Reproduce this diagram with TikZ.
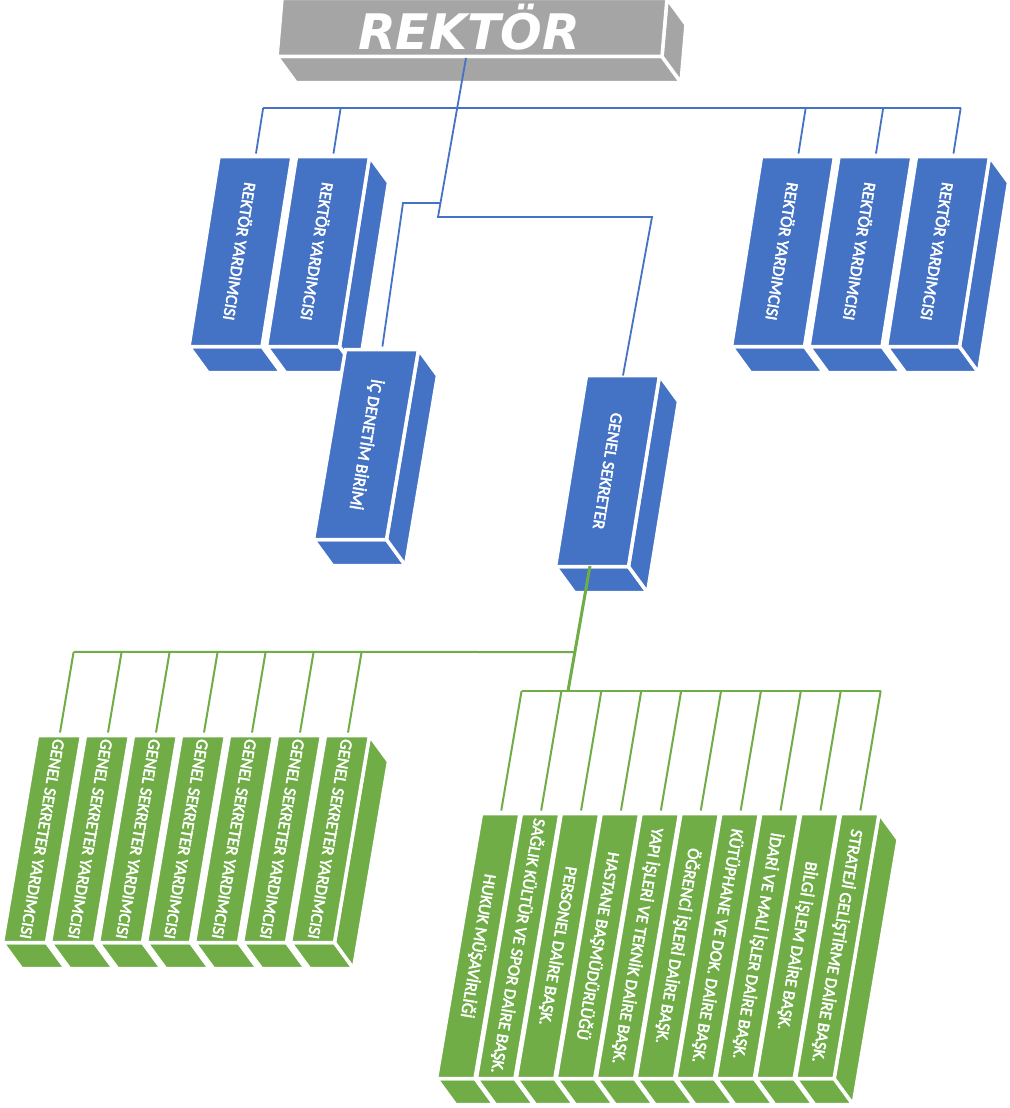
\documentclass[tikz,border=0pt]{standalone}
\usepackage{fontspec}
\newfontfamily\kutufont[FakeBold=2.5]{Carlito}
\newfontfamily\rektorfont{DejaVu Sans}
\usetikzlibrary{calc}

\definecolor{ofmavi}{HTML}{4472C4}
\definecolor{ofyesil}{HTML}{70AD47}
\definecolor{ofgri}{HTML}{A5A5A5}

%% depth of the 3d boxes
\def\derx{19}
\def\dery{26}

\tikzset{
  yuz/.style={draw=white, line width=3.5pt, line join=miter},
  etiket/.style={text=white, inner sep=0pt, font=\kutufont\fontsize{17}{18}\selectfont},
  mavibag/.style={draw=ofmavi, line width=1.8pt},
  yesilbag/.style={draw=ofyesil, line width=2pt},
  inis/.style={shorten >=3pt},
}

%% front face (name, x, y, w, h, slant, colour, text)
\newcommand{\onyuz}[8]{%
  \pgfmathsetmacro\aci{-90-atan(#6/#5)}%
  \filldraw[yuz, fill=#7] (#2,#3) -- ++(#4,0) -- ++(#6,-#5) -- ++(-#4,0) -- cycle;
  \node[etiket, rotate=\aci] (#1) at ({#2+#4/2+#6/2},{#3-#5/2}) {#8};
  \coordinate (#1-ust) at ({#2+#4/2+#6},{#3-#5});
  \coordinate (#1-egim) at ({#2+#4/2+2*#6},{#3-2*#5});
}
%% bottom face (x, y, w, colour)
\newcommand{\taban}[4]{%
  \filldraw[yuz, fill=#4] (#1,#2) -- ++(#3,0) -- ++(\derx,\dery) -- ++(-#3,0) -- cycle;
}
%% right face (x, y, w, h, slant, colour)
\newcommand{\yan}[6]{%
  \filldraw[yuz, fill=#6] ({#1+#3},#2) -- ++(#5,-#4) -- ++(\derx,\dery) -- ++(-#5,#4) -- cycle;
}

\begin{document}
\begin{tikzpicture}[x=1pt,y=-1pt]
        \useasboundingbox[fill=white] (0,0) rectangle (1009,1108);
        %% Rektor
        \taban{277}{56.5}{385}{ofgri}
        \yan{277}{56.5}{385}{58}{5}{ofgri}
        \filldraw[yuz, fill=ofgri] (277,56.5) -- ++(385,0) -- ++(5,-58) -- ++(-385,0) -- cycle;
        \node[text=white, inner sep=0pt, font=\rektorfont\bfseries\itshape\fontsize{49}{50}\selectfont] (rektor) at (469,27) {REKTÖR};
        %% Rektor yardimcilari
        \foreach \i/\xx in {1/189, 2/266.5} {\taban{\xx}{346.5}{73}{ofmavi}}
        \yan{266.5}{346.5}{73}{190}{30}{ofmavi}
        \foreach \i/\xx in {1/189, 2/266.5} {\onyuz{ry\i}{\xx}{346.5}{73}{190}{30}{ofmavi}{REKTÖR YARDIMCISI}}
        \foreach \i/\xx in {3/731.5, 4/809, 5/886.5} {\taban{\xx}{346.5}{73}{ofmavi}}
        \yan{886.5}{346.5}{73}{190}{30}{ofmavi}
        \foreach \i/\xx in {3/731.5, 4/809, 5/886.5} {\onyuz{ry\i}{\xx}{346.5}{73}{190}{30}{ofmavi}{REKTÖR YARDIMCISI}}
        %% Ic denetim
        \taban{313.5}{539.5}{73}{ofmavi}
        \yan{313.5}{539.5}{73}{190}{32}{ofmavi}
        \onyuz{icdenetim}{313.5}{539.5}{73}{190}{32}{ofmavi}{İÇ DENETİM BİRİMİ}
        %% Genel sekreter
        \taban{555.5}{566.5}{73}{ofmavi}
        \yan{555.5}{566.5}{73}{191}{31}{ofmavi}
        \onyuz{gs}{555.5}{566.5}{73}{191}{31}{ofmavi}{GENEL SEKRETER}
        %% Genel sekreter yardimcilari
        \foreach \i in {1,...,7} {\pgfmathsetmacro\xx{2.5+48*(\i-1)} \taban{\xx}{942.5}{44}{ofyesil}}
        \yan{290.5}{942.5}{44}{207}{35}{ofyesil}
        \foreach \i in {1,...,7} {\pgfmathsetmacro\xx{2.5+48*(\i-1)}
          \onyuz{gsy\i}{\xx}{942.5}{44}{207}{35}{ofyesil}{GENEL SEKRETER YARDIMCISI}}
        %% Daire baskanliklari
        \foreach \i in {1,...,10} {\pgfmathsetmacro\xx{436.5+39.9*(\i-1)} \taban{\xx}{1078.5}{38.5}{ofyesil}}
        \yan{795.6}{1078.5}{38.5}{265}{45}{ofyesil}
        \foreach \i/\t in {1/HUKUK MÜŞAVİRLİĞİ, 2/SAĞLIK KÜLTÜR VE SPOR DAİRE BAŞK., 3/PERSONEL DAİRE BAŞK.,
            4/HASTANE BAŞMÜDÜRLÜĞÜ, 5/YAPI İŞLERİ VE TEKNİK DAİRE BAŞK., 6/ÖĞRENCİ İŞLERİ DAİRE BAŞK.,
            7/KÜTÜPHANE VE DOK. DAİRE BAŞK., 8/İDARİ VE MALİ İŞLER DAİRE BAŞK., 9/BİLGİ İŞLEM DAİRE BAŞK.,
            10/STRATEJİ GELİŞTİRME DAİRE BAŞK.} {\pgfmathsetmacro\xx{436.5+39.9*(\i-1)}
          \onyuz{db\i}{\xx}{1078.5}{38.5}{265}{45}{ofyesil}{\t}}
        %% Connectors (blue)
        \foreach \i in {1,...,5} {\path (intersection of ry\i-ust--ry\i-egim and 0,108--100,108) coordinate (ry\i-bag);}
        \draw[mavibag] (ry1-bag) -- (ry5-bag);
        \foreach \i in {1,...,5} {\draw[mavibag, inis] (ry\i-bag) -- (ry\i-ust);}
        \coordinate (rektor-alt) at (466,58);
        \coordinate (dirsek1) at (438,217);
        \coordinate (dirsek2) at (652,217);
        \coordinate (kol1) at (440.5,203);
        \coordinate (kol2) at (403,203);
        \draw[mavibag] (rektor-alt) -- (dirsek1) -- (dirsek2) -- (gs-ust);
        \draw[mavibag, inis] (kol1) -- (kol2) -- (icdenetim-ust);
        %% Connectors (green)
        \coordinate (gs-alt) at (590,566);
        \coordinate (gsbag-sag) at (568,691);
        \coordinate (gsbag-sol) at (575,652);
        \draw[yesilbag, line width=3pt] (gs-alt) -- (gsbag-sag);
        \foreach \i in {1,...,7} {\path (intersection of gsy\i-ust--gsy\i-egim and 0,652--100,652) coordinate (gsy\i-bag);}
        \draw[yesilbag] (gsy1-bag) -- (gsbag-sol);
        \foreach \i in {1,...,7} {\draw[yesilbag, inis] (gsy\i-bag) -- (gsy\i-ust);}
        \foreach \i in {1,...,10} {\path (intersection of db\i-ust--db\i-egim and 0,691--100,691) coordinate (db\i-bag);}
        \draw[yesilbag] (db1-bag) -- (db10-bag);
        \foreach \i in {1,...,10} {\draw[yesilbag, inis] (db\i-bag) -- (db\i-ust);}
    \end{tikzpicture}
\end{document}
